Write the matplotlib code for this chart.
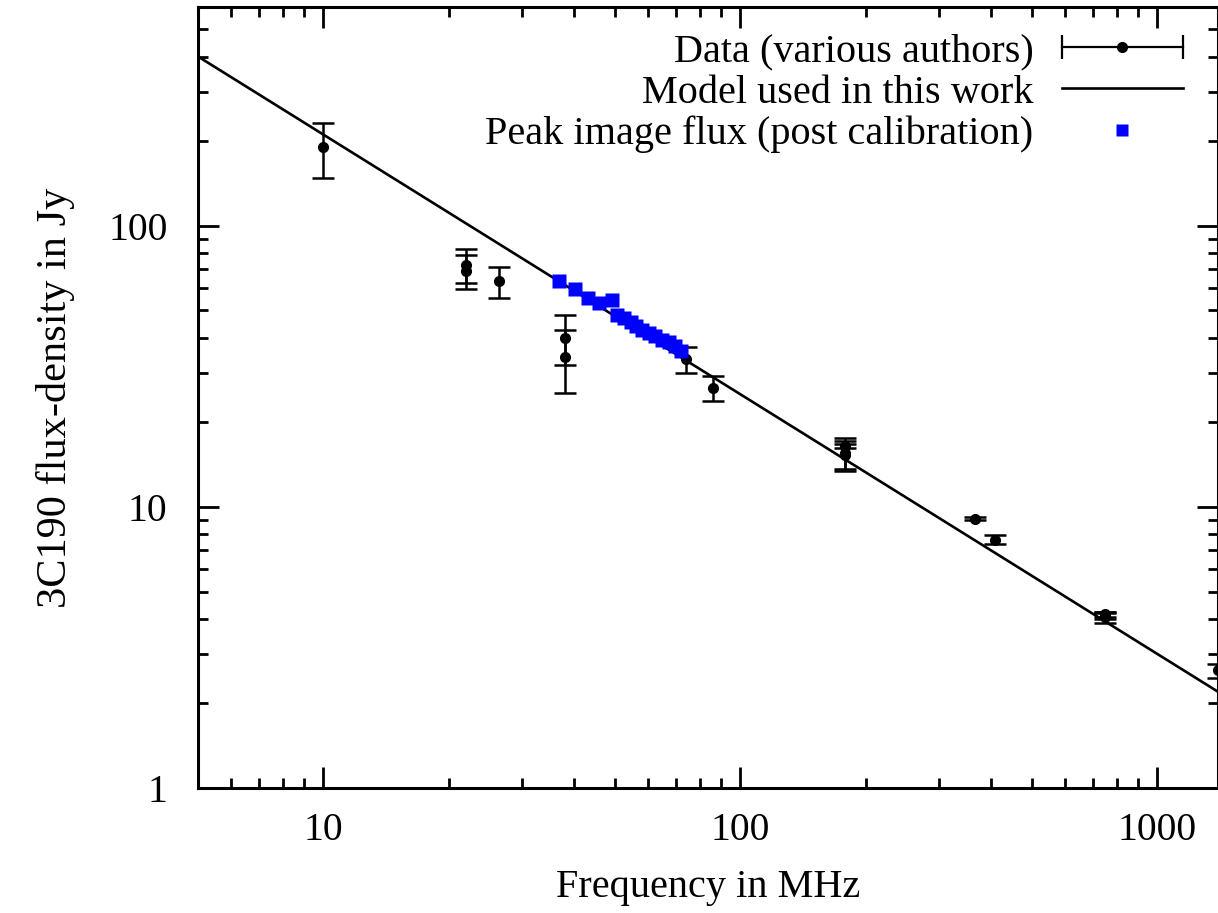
import matplotlib
matplotlib.use('Agg')
import matplotlib.pyplot as plt
from matplotlib.lines import Line2D
from matplotlib.legend_handler import HandlerLine2D
from matplotlib.ticker import NullFormatter

plt.rcParams['font.family'] = ['Liberation Serif', 'DejaVu Serif']

# ---- data ----
data_freq = [10, 22, 22, 26.4, 38, 38, 74, 86, 178, 178, 178, 365, 408, 750, 750, 750, 1400]
data_flux = [190, 72.7, 69.3, 63.5, 40, 34, 33.5, 26.5, 15.6, 15.3, 16.5, 9.07, 7.65, 4.05, 4.15, 4.1, 2.62]
data_err = [42, 10, 9.6, 8, 8, 8.5, 3.5, 2.6, 2.0, 1.9, 0.3, 0.1, 0.28, 0.18, 0.08, 0.1, 0.15]

peak_freq = [36.8, 40.1, 43.0, 45.8, 49.1, 50.7, 52.6, 54.6, 56.3, 58.2, 60.3, 62.6, 65.0, 67.4, 69.9, 71.9]
peak_flux = [63.7, 59.5, 55.3, 53.3, 54.5, 48.2, 46.9, 45.4, 44.1, 42.6, 41.5, 40.4, 39.3, 38.5, 37.5, 35.9]

model_freq = [5, 1400]
model_flux = [400, 2.2]

xtick_vals = [10, 100, 1000]
xtick_labels = ['10', '100', '1000']
ytick_vals = [1, 10, 100]
ytick_labels = ['1', '10', '100']

labels = ['Data (various authors)', 'Model used in this work',
          'Peak image flux (post calibration)']

FS = 29

fig = plt.figure(figsize=(12.18, 9.13), dpi=100)
ax = fig.add_axes([198 / 1218, 1 - 788 / 913, 1 - 198 / 1218, (788 - 7) / 913])
ax.set_xscale('log')
ax.set_yscale('log')

ax.plot(model_freq, model_flux, color='k', lw=1.9, zorder=2)
ax.errorbar(data_freq, data_flux, yerr=data_err, fmt='o', color='k', ms=7,
            capsize=8, elinewidth=1.8, capthick=1.8, zorder=3)
ax.plot(peak_freq, peak_flux, 's', color='blue', ms=10, mec='none', zorder=4)

ax.set_xlim(5, 1400)
ax.set_ylim(1, 600)

ax.set_xticks(xtick_vals, labels=xtick_labels)
ax.set_yticks(ytick_vals, labels=ytick_labels)
ax.xaxis.set_minor_formatter(NullFormatter())
ax.yaxis.set_minor_formatter(NullFormatter())

ax.tick_params(which='both', direction='in', top=True, right=True, width=2,
               labelsize=28.5)
ax.tick_params(which='major', length=15)
ax.tick_params(which='minor', length=7)
ax.tick_params(axis='x', pad=17)
ax.tick_params(axis='y', pad=22)
for sp in ax.spines.values():
    sp.set_linewidth(2.2)

ax.set_xlabel('Frequency in MHz', fontsize=FS, labelpad=15)
ax.set_ylabel('3C190 flux-density in Jy', fontsize=30.5, labelpad=24)

# legend handles (gnuplot style: horizontal bar with caps and a dot)
caps = Line2D([], [], color='k', lw=1.6, marker='|', ms=17, mew=1.6)
dot = Line2D([], [], color='k', marker='o', ms=7, ls='none')
model_h = Line2D([], [], color='k', lw=1.9)
peak_h = Line2D([], [], color='blue', marker='s', ms=9, ls='none', mec='none')

ax.legend([(caps, dot), model_h, peak_h], labels,
          handler_map={caps: HandlerLine2D(numpoints=2, marker_pad=0),
                       dot: HandlerLine2D(numpoints=1)},
          loc='upper right', bbox_to_anchor=(0.991, 1.0), frameon=False,
          markerfirst=False, fontsize=FS, handlelength=3.0,
          handletextpad=0.7, borderaxespad=0, borderpad=0.65,
          labelspacing=0.1)

fig.savefig('out.png', dpi=100)
